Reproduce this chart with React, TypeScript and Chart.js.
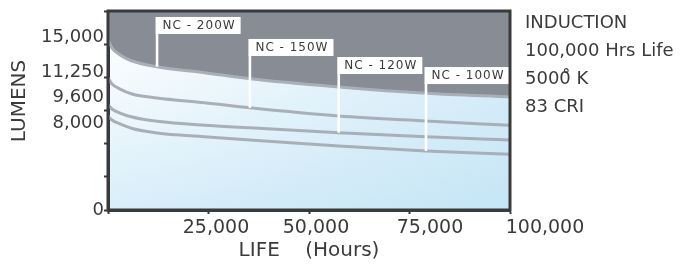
import { useEffect, useRef } from 'react';
import { Chart, registerables } from 'chart.js';

Chart.register(...registerables);

// ---- data ----
const hours = [0, 1000, 3000, 6000, 12200, 24000, 35300, 57400, 79100, 100000];
const nc200 = [15380, 14650, 14020, 13480, 12960, 12420, 11870, 11130, 10560, 10220];
const nc150 = [11940, 11400, 10940, 10490, 10130, 9700, 9240, 8500, 8050, 7660];
const nc120 = [9500, 9140, 8770, 8410, 8020, 7660, 7440, 6990, 6630, 6330];
const nc100 = [8500, 8140, 7780, 7370, 6970, 6630, 6330, 5790, 5340, 5040];
const seriesNames = ['NC - 200W', 'NC - 150W', 'NC - 120W', 'NC - 100W'];
const calloutHours = [12200, 35300, 57400, 79100];
const calloutTop = [17460, 15470, 13840, 12930];

const yTickLabels = ['0', '8,000', '9,600', '11,250', '15,000'];
const yLabelAt = [0, 7870, 10180, 12440, 15600];
const yMarks = [0, 3000, 6000, 9000, 12000, 15000, 18000];

const xTickLabels = ['25,000', '50,000', '75,000', '100,000'];
const xLabelAt = [26870, 51740, 80100, 108710];
const xMarks = [0, 25000, 50000, 75000, 100000];

const infoLines = ['INDUCTION', '100,000 Hrs Life', '5000\u030A K', '83 CRI'];

// ---- styles ----
const FONT = '"DejaVu Sans", sans-serif';
const TEXT = '#3b3b3b';
const AXIS = '#3a3a3a';
const CURVE = '#a9afb8';
const DARK = '#878c95';

const merge = (a: number[], b: number[]) =>
  Array.from(new Set([...a, ...b])).sort((p, q) => p - q);

const decorPlugin = {
  id: 'decor',
  beforeDraw(chart: any) {
    const { ctx, chartArea: a } = chart;
    const w = a.right - a.left;
    const h = a.bottom - a.top;
    const gv = ctx.createLinearGradient(0, a.top, 0, a.bottom);
    gv.addColorStop(0, '#ffffff');
    gv.addColorStop(0.4, '#f3fafd');
    gv.addColorStop(1, '#d8eef9');
    const gh = ctx.createLinearGradient(a.left, 0, a.right, 0);
    gh.addColorStop(0, 'rgba(175,218,242,0)');
    gh.addColorStop(1, 'rgba(175,218,242,0.45)');
    ctx.save();
    ctx.fillStyle = gv;
    ctx.fillRect(a.left, a.top, w, h);
    ctx.fillStyle = gh;
    ctx.fillRect(a.left, a.top, w, h);
    ctx.restore();
  },
  afterDatasetsDraw(chart: any) {
    const { ctx, chartArea: a } = chart;
    const xs = chart.scales.x;
    const ys = chart.scales.y;
    ctx.save();
    ctx.font = '12px ' + FONT;
    try { (ctx as any).letterSpacing = '1px'; } catch (e) { /* ignore */ }
    seriesNames.forEach((name, i) => {
      const meta = chart.getDatasetMeta(i);
      const idx = hours.indexOf(calloutHours[i]);
      const pt = meta.data[idx];
      const px = xs.getPixelForValue(calloutHours[i]);
      const top = ys.getPixelForValue(calloutTop[i]);
      const tw = ctx.measureText(name).width;
      const bh = 17;
      const bl = px - 1.5;
      ctx.fillStyle = '#ffffff';
      ctx.fillRect(bl, top, tw + 12, bh);
      ctx.fillRect(px - 1.3, top + bh - 1, 2.6, pt.y - (top + bh) + 1);
      ctx.fillStyle = TEXT;
      ctx.textBaseline = 'middle';
      ctx.textAlign = 'left';
      ctx.fillText(name, bl + 7, top + bh / 2 + 0.5);
    });
    ctx.restore();
    ctx.save();
    ctx.strokeStyle = AXIS;
    ctx.lineWidth = 3;
    ctx.strokeRect(a.left, a.top, a.right - a.left, a.bottom - a.top);
    ctx.restore();
  },
  afterDraw(chart: any) {
    const { ctx, chartArea: a } = chart;
    ctx.save();
    ctx.font = '18px ' + FONT;
    ctx.fillStyle = TEXT;
    ctx.textBaseline = 'middle';
    ctx.textAlign = 'left';
    infoLines.forEach((t, i) => {
      ctx.fillText(t, a.right + 15, a.top + 12 + i * 28.2);
    });
    ctx.restore();
  },
};

export default function App() {
  const ref = useRef<HTMLCanvasElement>(null);
  useEffect(() => {
    document.body.style.margin = '0';
    const series = [nc200, nc150, nc120, nc100];
    const chart = new Chart(ref.current as HTMLCanvasElement, {
      type: 'line',
      data: {
        datasets: series.map((vals, i) => ({
          label: seriesNames[i],
          data: hours.map((h, j) => ({ x: h, y: vals[j] })),
          borderColor: CURVE,
          borderWidth: 3,
          pointRadius: 0,
          cubicInterpolationMode: 'monotone' as const,
          fill: i === 0 ? 'end' : false,
          backgroundColor: DARK,
        })),
      },
      options: {
        responsive: false,
        animation: false,
        devicePixelRatio: 1,
        layout: { padding: { left: 4, top: 11, right: 176, bottom: 0 } },
        plugins: { legend: { display: false }, tooltip: { enabled: false } },
        scales: {
          x: {
            type: 'linear',
            min: 0,
            max: 100000,
            afterBuildTicks: (s: any) => {
              s.ticks = merge(xMarks, xLabelAt).map((v) => ({ value: v }));
            },
            afterFit: (s: any) => {
              s.height = 54;
            },
            ticks: {
              autoSkip: false,
              maxRotation: 0,
              minRotation: 0,
              padding: 3,
              color: TEXT,
              font: { family: FONT, size: 19 },
              callback: (v: any) => {
                const k = xLabelAt.indexOf(Number(v));
                return k >= 0 ? xTickLabels[k] : '';
              },
            },
            grid: {
              drawOnChartArea: false,
              drawTicks: true,
              tickLength: 4,
              tickWidth: 2,
              tickColor: (c: any) =>
                c.tick && xMarks.includes(c.tick.value) ? AXIS : 'rgba(0,0,0,0)',
            },
            border: { display: true, color: AXIS, width: 3 },
            title: {
              display: true,
              text: 'LIFE    (Hours)',
              color: TEXT,
              font: { family: FONT, size: 20 },
              padding: { top: 0, bottom: 1 },
            },
          },
          y: {
            type: 'linear',
            min: 0,
            max: 18000,
            afterBuildTicks: (s: any) => {
              s.ticks = merge(yMarks, yLabelAt).map((v) => ({ value: v }));
            },
            afterFit: (s: any) => {
              s.width = 104;
            },
            ticks: {
              autoSkip: false,
              padding: 0,
              color: TEXT,
              font: { family: FONT, size: 18 },
              callback: (v: any) => {
                const k = yLabelAt.indexOf(Number(v));
                return k >= 0 ? yTickLabels[k] : '';
              },
            },
            grid: {
              drawOnChartArea: false,
              drawTicks: true,
              tickLength: 4,
              tickWidth: 2,
              tickColor: (c: any) =>
                c.tick && yMarks.includes(c.tick.value) ? AXIS : 'rgba(0,0,0,0)',
            },
            border: { display: true, color: AXIS, width: 3 },
            title: {
              display: true,
              text: '   LUMENS',
              color: TEXT,
              font: { family: FONT, size: 20 },
              padding: { top: 4, bottom: 4 },
            },
          },
        },
      },
      plugins: [decorPlugin],
    } as any);
    return () => chart.destroy();
  }, []);
  return (
    <div style={{ width: 686, height: 264 }}>
      <canvas ref={ref} width={686} height={264} style={{ display: 'block' }} />
    </div>
  );
}
